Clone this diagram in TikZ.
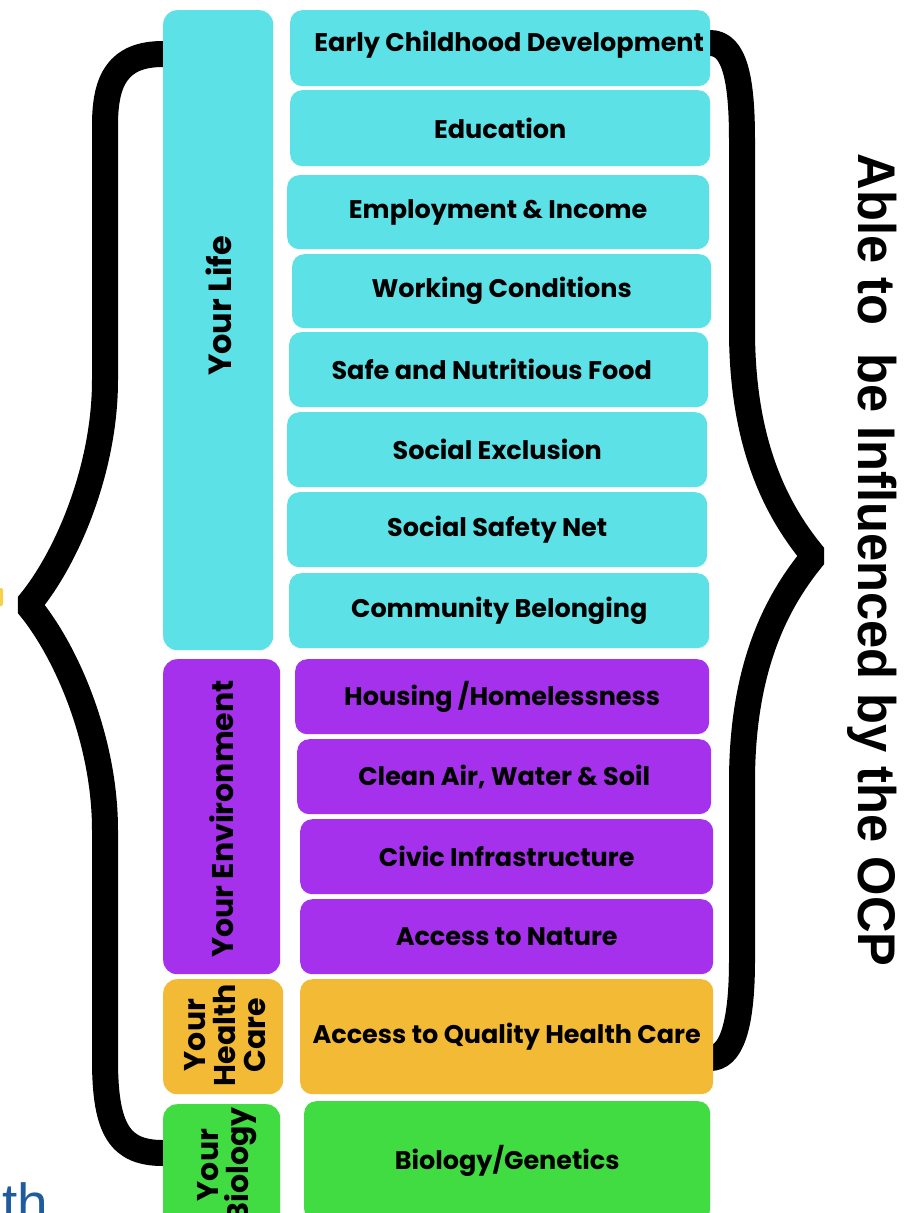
\documentclass[tikz,border=0pt]{standalone}
\usepackage{fontspec}
\setmainfont{Poppins}
\newfontfamily\ocpfont{Liberation Sans}
\usepackage{xcolor}
\usetikzlibrary{calc}

\definecolor{lifecyan}{HTML}{5CE1E6}
\definecolor{envpurple}{HTML}{A531EC}
\definecolor{careorange}{HTML}{F3BA35}
\definecolor{biogreen}{HTML}{41DC42}
\definecolor{logoblue}{HTML}{1F5C9E}
\definecolor{logoyellow}{HTML}{F6D24A}

\tikzset{
  factorbox/.style={rectangle, rounded corners=12pt, anchor=north west, inner sep=0pt,
    font=\fontsize{25.5}{28}\selectfont\bfseries},
  groupbox/.style={rectangle, rounded corners=14pt, anchor=north west, inner sep=0pt},
  grouplabel/.style={rotate=90, align=center, inner sep=0pt,
    font=\fontsize{30}{30}\selectfont\bfseries},
  bracket/.style={line width=26pt, line join=bevel}
}

\begin{document}
\begin{tikzpicture}[x=1pt, y=-1pt]
      \useasboundingbox (0,0) rectangle (906,1213);
      \clip (0,0) rectangle (906,1213);

      % braces
      \draw[bracket] (175,54) -- (163,54) .. controls (118,54) and (105,80) .. (105,125)
        -- (105,380) .. controls (105,470) and (66,560) .. (28,605)
        .. controls (66,650) and (105,740) .. (105,830)
        -- (105,1060) .. controls (105,1130) and (120,1153) .. (163,1153) -- (175,1153);
      \draw[bracket] (700,43) -- (710,43) .. controls (735,43) and (742,80) .. (742,140)
        -- (742,330) .. controls (742,450) and (780,515) .. (814,556)
        .. controls (780,597) and (742,662) .. (742,782)
        -- (742,960) .. controls (742,1030) and (730,1058) .. (710,1058) -- (700,1058);

      % groups
      \node[groupbox, fill=lifecyan, minimum width=110pt, minimum height=640pt] (life) at (163,10) {};
      \node[groupbox, fill=envpurple, minimum width=117pt, minimum height=315pt] (env) at (163,659) {};
      \node[groupbox, fill=careorange, minimum width=120pt, minimum height=115pt] (care) at (163,979) {};
      \node[groupbox, fill=biogreen, minimum width=117pt, minimum height=125pt] (bio) at (163,1104) {};

      \node[grouplabel, anchor=base, font=\fontsize{32}{32}\selectfont\bfseries] (lifetext) at (231,306) {Your Life};
      \node[grouplabel, anchor=base] (envtext) at (233,819) {Your Environment};
      \node[grouplabel] (caretext) at (225,1035) {Your\\Health\\Care};
      \node[grouplabel] (biotext) at (227,1165) {Your\\Biology};

      % determinants
      \node[factorbox, fill=lifecyan, minimum width=420pt, minimum height=76pt] (f1) at (290,10) {\raisebox{13pt}{\hspace{18pt}Early Childhood Development}};
      \node[factorbox, fill=lifecyan, minimum width=420pt, minimum height=76pt] (f2) at (290,90) {Education};
      \node[factorbox, fill=lifecyan, minimum width=422pt, minimum height=74pt] (f3) at (287,175) {Employment \& Income};
      \node[factorbox, fill=lifecyan, minimum width=419pt, minimum height=74pt] (f4) at (292,254) {Working Conditions};
      \node[factorbox, fill=lifecyan, minimum width=419pt, minimum height=75pt] (f5) at (289,332) {\raisebox{-6pt}{Safe and Nutritious Food\hspace{14pt}}};
      \node[factorbox, fill=lifecyan, minimum width=420pt, minimum height=75pt] (f6) at (287,412) {Social Exclusion};
      \node[factorbox, fill=lifecyan, minimum width=420pt, minimum height=75pt] (f7) at (287,492) {Social Safety Net};
      \node[factorbox, fill=lifecyan, minimum width=420pt, minimum height=75pt] (f8) at (289,573) {Community Belonging};
      \node[factorbox, fill=envpurple, minimum width=414pt, minimum height=75pt] (f9) at (295,659) {Housing /Homelessness};
      \node[factorbox, fill=envpurple, minimum width=414pt, minimum height=75pt] (f10) at (297,739) {Clean Air, Water \& Soil};
      \node[factorbox, fill=envpurple, minimum width=413pt, minimum height=75pt] (f11) at (300,819) {Civic Infrastructure};
      \node[factorbox, fill=envpurple, minimum width=413pt, minimum height=75pt] (f12) at (300,899) {Access to Nature};
      \node[factorbox, fill=careorange, minimum width=413pt, minimum height=115pt] (f13) at (300,979) {Access to Quality Health Care};
      \node[factorbox, fill=biogreen, minimum width=406pt, minimum height=120pt] (f14) at (304,1101) {Biology/Genetics};

      \node[rotate=-90, anchor=base, inner sep=0pt, font=\ocpfont\bfseries\fontsize{53}{60}\selectfont] (ocp) at (858,560) {\scalebox{0.955}[1]{Able to\ \ be Influenced by the OCP}};

      % cut-off pieces at the edge
      \node[anchor=base west, inner sep=0pt, text=logoblue, font=\ocpfont\fontsize{55}{60}\selectfont] (logo) at (2,1222) {th};
      \fill[logoyellow, rounded corners=2pt] (-6,588) rectangle (3,606);
    \end{tikzpicture}
\end{document}
